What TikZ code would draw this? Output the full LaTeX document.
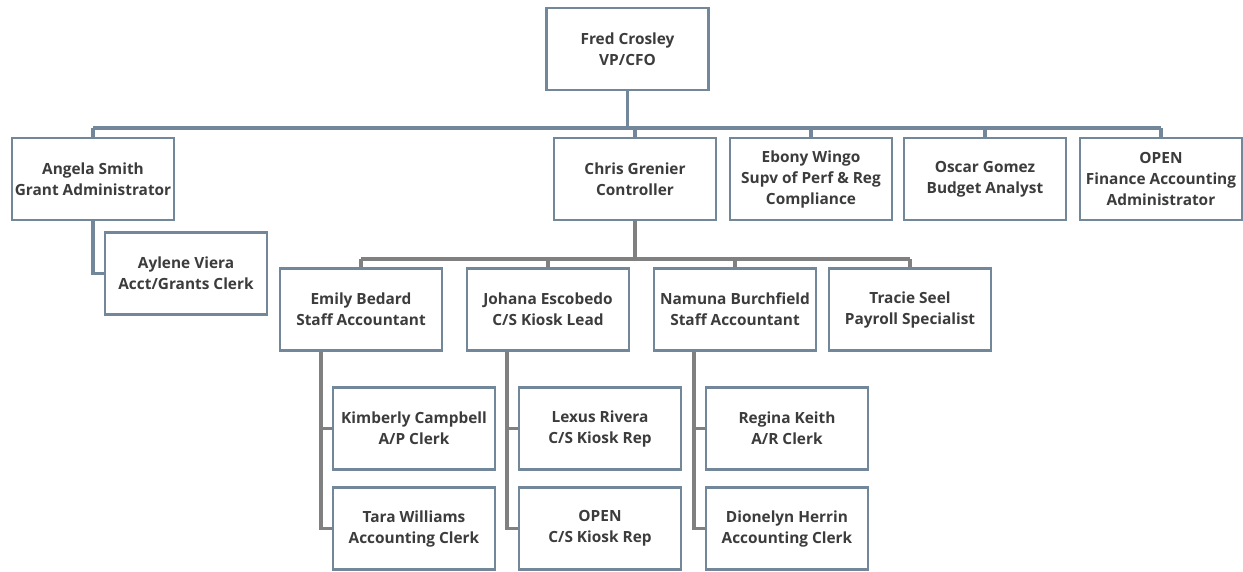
\documentclass[tikz,border=0pt]{standalone}
\usepackage{fontspec}
\setmainfont{Open Sans}
\begin{document}
\begin{tikzpicture}[x=1pt,y=-1pt,
  box/.style={draw=boxc,line width=2.8pt,fill=white,minimum width=162pt,minimum height=82pt,inner sep=0pt,align=center,font=\fontsize{15.4}{21}\selectfont\bfseries,text=txt},
  topl/.style={draw=boxc,line width=3.2pt},
  lowl/.style={draw=greyc,line width=3.2pt}]
\definecolor{boxc}{HTML}{72889A}
\definecolor{greyc}{HTML}{808080}
\definecolor{txt}{HTML}{3C3C3C}
\useasboundingbox (0,0) rectangle (1243,571);
\coordinate (busA) at (0,128);
\coordinate (busB) at (0,259);
\coordinate (vE) at (321,0);
\coordinate (vJ) at (507,0);
\coordinate (vN) at (694,0);
\node[box] (fred) at (627.5,49) {Fred Crosley\\VP/CFO};
\node[box] (angela) at (93,179) {Angela Smith\\Grant Administrator};
\node[box] (chris) at (635,179) {Chris Grenier\\Controller};
\node[box] (ebony) at (811,179) {Ebony Wingo\\Supv of Perf \& Reg\\Compliance};
\node[box] (oscar) at (985,179) {Oscar Gomez\\Budget Analyst};
\node[box] (openf) at (1161,179) {OPEN\\Finance Accounting\\Administrator};
\node[box] (aylene) at (186,273.5) {Aylene Viera\\Acct/Grants Clerk};
\node[box] (emily) at (361,309.5) {Emily Bedard\\Staff Accountant};
\node[box] (johana) at (548,309.5) {Johana Escobedo\\C/S Kiosk Lead};
\node[box] (namuna) at (735,309.5) {Namuna Burchfield\\Staff Accountant};
\node[box] (tracie) at (910,309.5) {Tracie Seel\\Payroll Specialist};
\node[box] (kim) at (414,428.5) {Kimberly Campbell\\A/P Clerk};
\node[box] (tara) at (414,528.5) {Tara Williams\\Accounting Clerk};
\node[box] (lexus) at (600,428.5) {Lexus Rivera\\C/S Kiosk Rep};
\node[box] (openr) at (600,528.5) {OPEN\\C/S Kiosk Rep};
\node[box] (regina) at (787,428.5) {Regina Keith\\A/R Clerk};
\node[box] (dion) at (787,528.5) {Dionelyn Herrin\\Accounting Clerk};
% top level
\draw[topl] (fred.south) -- (fred.south |- busA);
\draw[topl] (angela.north |- busA) -- (openf.north |- busA);
\foreach \n in {angela,chris,ebony,oscar,openf}
  \draw[topl] (\n.north |- busA) -- (\n.north);
\draw[topl] (angela.south) |- (aylene.west);
% controller level
\draw[lowl] (chris.south) -- (chris.south |- busB);
\draw[lowl] (emily.north |- busB) -- (tracie.north |- busB);
\foreach \n in {emily,johana,namuna,tracie}
  \draw[lowl] (\n.north |- busB) -- (\n.north);
% third level
\draw[lowl] (vE |- emily.south) |- (tara.west);
\draw[lowl] (vE |- kim.west) -- (kim.west);
\draw[lowl] (vJ |- johana.south) |- (openr.west);
\draw[lowl] (vJ |- lexus.west) -- (lexus.west);
\draw[lowl] (vN |- namuna.south) |- (dion.west);
\draw[lowl] (vN |- regina.west) -- (regina.west);
\end{tikzpicture}
\end{document}
